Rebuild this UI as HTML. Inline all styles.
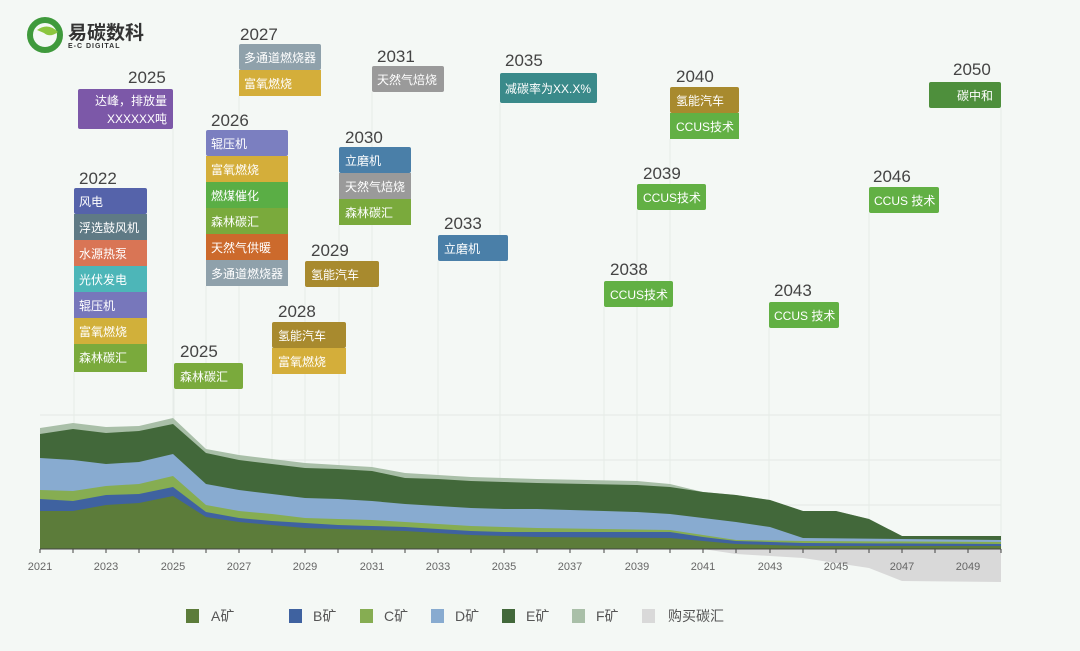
<!DOCTYPE html>
<html><head><meta charset="utf-8"><style>
body{margin:0;background:#f4f8f5;}
svg{display:block;font-family:"Liberation Sans","Noto Sans CJK SC",sans-serif;}
.yr{font-size:17px;fill:#444;}
.bt{font-size:12px;fill:#fff;}
.tk{font-size:11px;fill:#666;}
.lg{font-size:14px;fill:#555;}
</style></head><body>
<svg width="1080" height="651" viewBox="0 0 1080 651">
<rect width="1080" height="651" fill="#f4f8f5"/>
<!-- logo -->
<g>
<circle cx="45" cy="35" r="15" fill="none" stroke="#3f9a3c" stroke-width="6"/>
<path d="M37 30 Q48 22 58 32 Q50 38 44 33" fill="#8cc63f"/>
<text x="68" y="39" font-size="19" font-weight="bold" fill="#333">易碳数科</text>
<text x="68" y="48" font-size="7" font-weight="bold" fill="#333" letter-spacing="1">E-C DIGITAL</text>
</g>
<!-- grid -->
<g stroke="#e3e8e5" stroke-width="1">
<line x1="40" y1="415" x2="1001" y2="415"/><line x1="40" y1="460" x2="1001" y2="460"/><line x1="40" y1="505" x2="1001" y2="505"/>
</g>
<g stroke="#e6ebe8" stroke-width="1">
<line x1="74" y1="372" x2="74" y2="549"/><line x1="173" y1="129" x2="173" y2="549"/><line x1="174" y1="389" x2="174" y2="549"/>
<line x1="206" y1="286" x2="206" y2="549"/><line x1="239" y1="96" x2="239" y2="549"/><line x1="272" y1="374" x2="272" y2="549"/>
<line x1="305" y1="287" x2="305" y2="549"/><line x1="339" y1="225" x2="339" y2="549"/><line x1="372" y1="92" x2="372" y2="549"/>
<line x1="438" y1="261" x2="438" y2="549"/><line x1="500" y1="103" x2="500" y2="549"/><line x1="604" y1="307" x2="604" y2="549"/>
<line x1="637" y1="210" x2="637" y2="549"/><line x1="670" y1="139" x2="670" y2="549"/><line x1="769" y1="328" x2="769" y2="549"/>
<line x1="869" y1="213" x2="869" y2="549"/><line x1="1001" y1="108" x2="1001" y2="549"/>
</g>
<!-- purchase -->
<polygon fill="#d9d9d9" points="703,549 736,554 770,556 803,558 836,563 869,568 902,581 1001,582 1001,549"/>
<!-- F -->
<polygon fill="#a9bfa8" points="40,428 73,423 106,427 139,426 173,418 206,449 239,455 272,459 305,463 338,465 372,467 405,473 438,475 471,477 504,478 537,479 637,481 670,484 703,492 736,495 770,500 803,511 836,511 869,519 902,536 1001,536 1001,549 40,549"/>
<!-- E -->
<polygon fill="#42683a" points="40,434 73,429 106,433 139,431 173,424 206,453 239,460 272,464 305,468 338,469 372,471 405,478 438,479 471,481 504,482 537,483 637,485 670,487 703,492 736,495 770,500 803,511 836,511 869,519 902,536 1001,536 1001,549 40,549"/>
<!-- D -->
<polygon fill="#88abd0" points="40,458 73,460 106,464 139,462 173,454 206,484 239,490 272,494 305,498 338,499 372,501 405,504 438,506 471,508 504,509 537,509 570,510 604,511 637,512 670,514 703,518 736,522 770,527 803,538 1001,540 1001,549 40,549"/>
<!-- C -->
<polygon fill="#86ad52" points="40,490 73,491 106,486 139,484 173,476 206,505 239,511 272,514 305,518 338,519 372,520 405,522 438,524 471,526 504,527 537,528 670,530 703,535 736,540 803,541 1001,542 1001,549 40,549"/>
<!-- B -->
<polygon fill="#3f62a0" points="40,499 73,501 106,495 139,494 173,487 206,512 239,518 272,521 305,523 338,525 372,526 405,527 438,529 471,531 504,532 670,532 703,537 736,541 803,543 1001,544 1001,549 40,549"/>
<!-- A -->
<polygon fill="#5c7c3a" points="40,511 73,511 106,505 139,503 173,496 206,517 239,522 272,525 305,528 338,529 372,530 405,531 438,533 471,535 504,536 537,537 670,538 703,541 736,544 803,546 1001,546 1001,549 40,549"/>
<line x1="40" y1="549" x2="1001" y2="549" stroke="#444" stroke-width="1"/>
<g stroke="#444" stroke-width="1">
<line x1="40" y1="549" x2="40" y2="553"/><line x1="73" y1="549" x2="73" y2="553"/><line x1="106" y1="549" x2="106" y2="553"/><line x1="139" y1="549" x2="139" y2="553"/><line x1="173" y1="549" x2="173" y2="553"/><line x1="206" y1="549" x2="206" y2="553"/><line x1="239" y1="549" x2="239" y2="553"/><line x1="272" y1="549" x2="272" y2="553"/><line x1="305" y1="549" x2="305" y2="553"/><line x1="338" y1="549" x2="338" y2="553"/><line x1="372" y1="549" x2="372" y2="553"/><line x1="405" y1="549" x2="405" y2="553"/><line x1="438" y1="549" x2="438" y2="553"/><line x1="471" y1="549" x2="471" y2="553"/><line x1="504" y1="549" x2="504" y2="553"/><line x1="537" y1="549" x2="537" y2="553"/><line x1="570" y1="549" x2="570" y2="553"/><line x1="604" y1="549" x2="604" y2="553"/><line x1="637" y1="549" x2="637" y2="553"/><line x1="670" y1="549" x2="670" y2="553"/><line x1="703" y1="549" x2="703" y2="553"/><line x1="736" y1="549" x2="736" y2="553"/><line x1="770" y1="549" x2="770" y2="553"/><line x1="803" y1="549" x2="803" y2="553"/><line x1="836" y1="549" x2="836" y2="553"/><line x1="869" y1="549" x2="869" y2="553"/><line x1="902" y1="549" x2="902" y2="553"/><line x1="935" y1="549" x2="935" y2="553"/><line x1="968" y1="549" x2="968" y2="553"/><line x1="1001" y1="549" x2="1001" y2="553"/>
</g>
<g class="tk" text-anchor="middle">
<text x="40" y="570">2021</text><text x="106" y="570">2023</text><text x="173" y="570">2025</text><text x="239" y="570">2027</text><text x="305" y="570">2029</text><text x="372" y="570">2031</text><text x="438" y="570">2033</text><text x="504" y="570">2035</text><text x="570" y="570">2037</text><text x="637" y="570">2039</text><text x="703" y="570">2041</text><text x="770" y="570">2043</text><text x="836" y="570">2045</text><text x="902" y="570">2047</text><text x="968" y="570">2049</text>
</g>
<!-- annotations -->
<g class="yr">
<text x="79" y="184">2022</text><text x="128" y="83">2025</text><text x="211" y="126">2026</text><text x="240" y="40">2027</text>
<text x="180" y="357">2025</text><text x="278" y="317">2028</text><text x="311" y="256">2029</text><text x="345" y="143">2030</text>
<text x="377" y="62">2031</text><text x="444" y="229">2033</text><text x="505" y="66">2035</text><text x="610" y="275">2038</text>
<text x="643" y="179">2039</text><text x="676" y="82">2040</text><text x="774" y="296">2043</text><text x="873" y="182">2046</text><text x="953" y="75">2050</text>
</g>
<g class="bt">
<rect x="74" y="188" width="73" height="26" fill="#5563aa" rx="2"/><text x="79" y="206">风电</text>
<rect x="74" y="214" width="73" height="26" fill="#5f7a85"/><text x="79" y="232">浮选鼓风机</text>
<rect x="74" y="240" width="73" height="26" fill="#d97555"/><text x="79" y="258">水源热泵</text>
<rect x="74" y="266" width="73" height="26" fill="#4db6b8"/><text x="79" y="284">光伏发电</text>
<rect x="74" y="292" width="73" height="26" fill="#7777bb"/><text x="79" y="310">辊压机</text>
<rect x="74" y="318" width="73" height="26" fill="#d1b03a"/><text x="79" y="336">富氧燃烧</text>
<rect x="74" y="344" width="73" height="28" fill="#7aaa3c"/><text x="79" y="362">森林碳汇</text>
<rect x="78" y="89" width="95" height="40" fill="#7c58a8" rx="2"/><text x="167" y="105" text-anchor="end">达峰，排放量</text><text x="167" y="123" text-anchor="end">XXXXXX吨</text>
<rect x="206" y="130" width="82" height="26" fill="#7b7fc0" rx="2"/><text x="211" y="148">辊压机</text>
<rect x="206" y="156" width="82" height="26" fill="#d4ae3a"/><text x="211" y="174">富氧燃烧</text>
<rect x="206" y="182" width="82" height="26" fill="#5aae45"/><text x="211" y="200">燃煤催化</text>
<rect x="206" y="208" width="82" height="26" fill="#7aaa3c"/><text x="211" y="226">森林碳汇</text>
<rect x="206" y="234" width="82" height="26" fill="#cc6a2c"/><text x="211" y="252">天然气供暖</text>
<rect x="206" y="260" width="82" height="26" fill="#8fa1ab"/><text x="211" y="278">多通道燃烧器</text>
<rect x="239" y="44" width="82" height="26" fill="#8fa1ab" rx="2"/><text x="244" y="62">多通道燃烧器</text>
<rect x="239" y="70" width="82" height="26" fill="#d4ae3a"/><text x="244" y="88">富氧燃烧</text>
<rect x="174" y="363" width="69" height="26" fill="#7aaa3c" rx="2"/><text x="180" y="381">森林碳汇</text>
<rect x="272" y="322" width="74" height="26" fill="#a88a2e" rx="2"/><text x="278" y="340">氢能汽车</text>
<rect x="272" y="348" width="74" height="26" fill="#d4ae3a"/><text x="278" y="366">富氧燃烧</text>
<rect x="305" y="261" width="74" height="26" fill="#a88a2e" rx="2"/><text x="311" y="279">氢能汽车</text>
<rect x="339" y="147" width="72" height="26" fill="#4a7fa8" rx="2"/><text x="345" y="165">立磨机</text>
<rect x="339" y="173" width="72" height="26" fill="#9a9a9a"/><text x="345" y="191">天然气焙烧</text>
<rect x="339" y="199" width="72" height="26" fill="#7aaa3c"/><text x="345" y="217">森林碳汇</text>
<rect x="372" y="66" width="72" height="26" fill="#9a9a9a" rx="2"/><text x="377" y="84">天然气焙烧</text>
<rect x="438" y="235" width="70" height="26" fill="#4a7fa8" rx="2"/><text x="444" y="253">立磨机</text>
<rect x="500" y="73" width="97" height="30" fill="#3a8a8a" rx="2"/><text x="505" y="93">减碳率为XX.X%</text>
<rect x="604" y="281" width="69" height="26" fill="#62b044" rx="2"/><text x="610" y="299">CCUS技术</text>
<rect x="637" y="184" width="69" height="26" fill="#62b044" rx="2"/><text x="643" y="202">CCUS技术</text>
<rect x="670" y="87" width="69" height="26" fill="#a88a2e" rx="2"/><text x="676" y="105">氢能汽车</text>
<rect x="670" y="113" width="69" height="26" fill="#62b044"/><text x="676" y="131">CCUS技术</text>
<rect x="769" y="302" width="70" height="26" fill="#62b044" rx="2"/><text x="774" y="320">CCUS 技术</text>
<rect x="869" y="187" width="70" height="26" fill="#62b044" rx="2"/><text x="874" y="205">CCUS 技术</text>
<rect x="929" y="82" width="72" height="26" fill="#4e8f3c" rx="2"/><text x="993" y="100" text-anchor="end">碳中和</text>
</g>
<!-- legend -->
<g class="lg">
<rect x="186" y="609" width="13" height="14" fill="#5c7c3a"/><text x="211" y="621">A矿</text>
<rect x="289" y="609" width="13" height="14" fill="#3f62a0"/><text x="313" y="621">B矿</text>
<rect x="360" y="609" width="13" height="14" fill="#86ad52"/><text x="384" y="621">C矿</text>
<rect x="431" y="609" width="13" height="14" fill="#88abd0"/><text x="455" y="621">D矿</text>
<rect x="502" y="609" width="13" height="14" fill="#42683a"/><text x="526" y="621">E矿</text>
<rect x="572" y="609" width="13" height="14" fill="#a9bfa8"/><text x="596" y="621">F矿</text>
<rect x="642" y="609" width="13" height="14" fill="#d9d9d9"/><text x="668" y="621">购买碳汇</text>
</g>
</svg>
</body></html>
